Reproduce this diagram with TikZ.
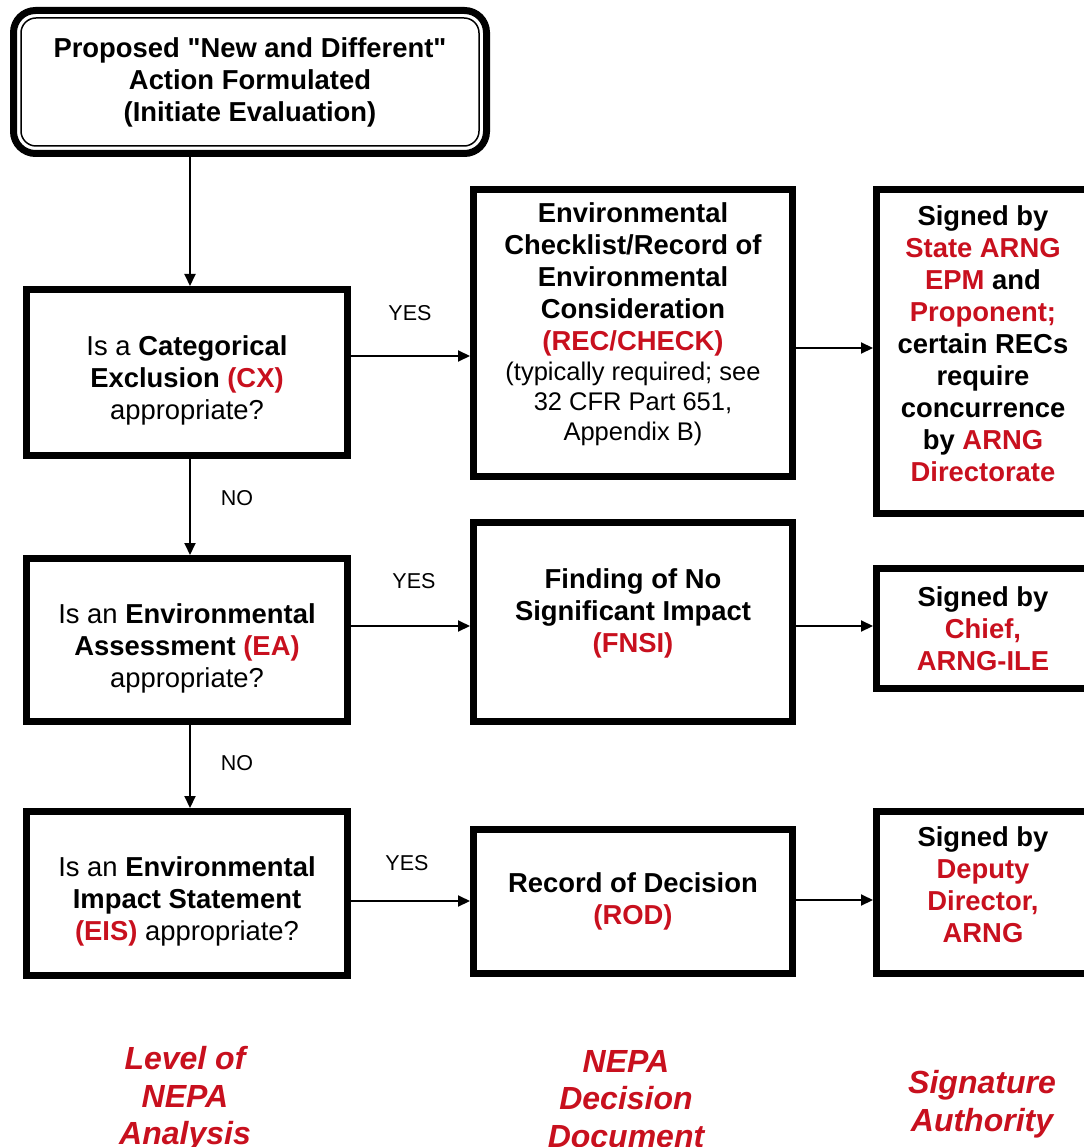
\documentclass[tikz,border=0pt]{standalone}
\usepackage{fontspec}
\setmainfont{Liberation Sans}[Ligatures=TeXOff]
\usetikzlibrary{arrows.meta}
\definecolor{nepared}{RGB}{200,16,30}
\newcommand\rd[1]{\textcolor{nepared}{\textbf{#1}}}
\newcommand\bx{\fontsize{27.4}{32}\selectfont}
\newcommand\sm{\fontsize{25.5}{30}\selectfont}
\newcommand\pushdn[1]{\rule{0pt}{#1}}
\newcommand\pushup[1]{\rule[-#1]{0pt}{0pt}}
\tikzset{
  box/.style={draw, line width=7pt, align=center, inner sep=0pt, font=\bx},
  arr/.style={line width=2pt, -{Triangle[length=12pt,width=11pt]}},
  tag/.style={font=\fontsize{21.5}{24}\selectfont},
  foot/.style={text=nepared, align=center, font=\fontsize{32}{37.5}\selectfont\bfseries\itshape},
}
\begin{document}
\begin{tikzpicture}[x=1pt, y=-1pt]
  \useasboundingbox (0,0) rectangle (1083,1147);
  \node[box, rounded corners=22pt, minimum width=473pt, minimum height=143pt, font=\bx\bfseries] (top) at (250,82)
    {Proposed "New and Different"\\Action Formulated\\(Initiate Evaluation)};
  \draw[line width=1.5pt, rounded corners=15pt] ([shift={(11pt,-11pt)}]top.north west) rectangle ([shift={(-11pt,11pt)}]top.south east);

  \node[box, minimum width=321pt, minimum height=166pt] (cx) at (187,372.5)
    {\pushdn{36pt}Is a \textbf{Categorical}\\\textbf{Exclusion} \rd{(CX)}\\appropriate?};
  \node[box, minimum width=321pt, minimum height=163pt] (ea) at (187,640)
    {\pushdn{36pt}Is an \textbf{Environmental}\\\textbf{Assessment} \rd{(EA)}\\appropriate?};
  \node[box, minimum width=321pt, minimum height=164pt] (eis) at (187,893.5)
    {\pushdn{35pt}Is an \textbf{Environmental}\\\textbf{Impact Statement}\\\rd{(EIS)} appropriate?};

  \node[box, minimum width=319pt, minimum height=287pt] (rec) at (633,333)
    {\textbf{Environmental}\\\textbf{Checklist/Record of}\\\textbf{Environmental}\\\textbf{Consideration}\\\rd{(REC/CHECK)}\\[-2pt]
     {\sm (typically required; see}\\[-2pt]{\sm 32 CFR Part 651,}\\[-2pt]{\sm Appendix B)\pushup{22pt}}};
  \node[box, minimum width=319pt, minimum height=199pt, font=\bx\bfseries] (fnsi) at (633,622)
    {Finding of No\\Significant Impact\\\rd{(FNSI)}\pushup{23pt}};
  \node[box, minimum width=319pt, minimum height=144pt, font=\bx\bfseries] (rod) at (633,901.5)
    {Record of Decision\\\rd{(ROD)}};

  \node[box, minimum width=213pt, minimum height=324pt, font=\bx\bfseries] (sig1) at (983,351.5)
    {Signed by\\\rd{State ARNG}\\\rd{EPM} and\\\rd{Proponent;}\\certain RECs\\require\\concurrence\\by \rd{ARNG}\\\rd{Directorate}\pushup{16pt}};
  \node[box, minimum width=213pt, minimum height=120pt, font=\bx\bfseries] (sig2) at (983,628.5)
    {Signed by\\\rd{Chief,}\\\rd{ARNG-ILE}};
  \node[box, minimum width=213pt, minimum height=162pt, font=\bx\bfseries] (sig3) at (983,892.5)
    {Signed by\\\rd{Deputy}\\\rd{Director,}\\\rd{ARNG}\pushup{15pt}};

  \coordinate (v0) at ([xshift=3pt]cx.north);
  \draw[arr] (top.south -| v0) -- (v0);
  \draw[arr] ([xshift=3pt]cx.south) -- ([xshift=3pt]ea.north);
  \draw[arr] ([xshift=3pt]ea.south) -- ([xshift=3pt]eis.north);

  \coordinate (h1) at ([yshift=16.5pt]cx.east);
  \coordinate (h2) at ([yshift=-15pt]rec.east);
  \coordinate (h3) at ([yshift=14pt]ea.east);
  \coordinate (h4) at ([yshift=-4pt]fnsi.east);
  \coordinate (h5) at ([yshift=-7.5pt]eis.east);
  \coordinate (h6) at ([yshift=1.5pt]rod.east);
  \draw[arr] (h1) -- (h1 -| rec.west);
  \draw[arr] (h2) -- (h2 -| sig1.west);
  \draw[arr] (h3) -- (h3 -| fnsi.west);
  \draw[arr] (h4) -- (h4 -| sig2.west);
  \draw[arr] (h5) -- (h5 -| rod.west);
  \draw[arr] (h6) -- (h6 -| sig3.west);

  \node[tag] (yes1) at (410,313) {YES};
  \node[tag] (yes2) at (414,581) {YES};
  \node[tag] (yes3) at (407,863) {YES};
  \node[tag] (no1) at (237,498) {NO};
  \node[tag] (no2) at (237,763) {NO};

  \node[foot] (lvl) at (185,1099) {Level of\\NEPA\\Analysis};
  \node[foot] (doc) at (626,1099) {NEPA\\Decision\\Document};
  \node[foot] (auth) at (982,1104) {Signature\\Authority};
\end{tikzpicture}
\end{document}
